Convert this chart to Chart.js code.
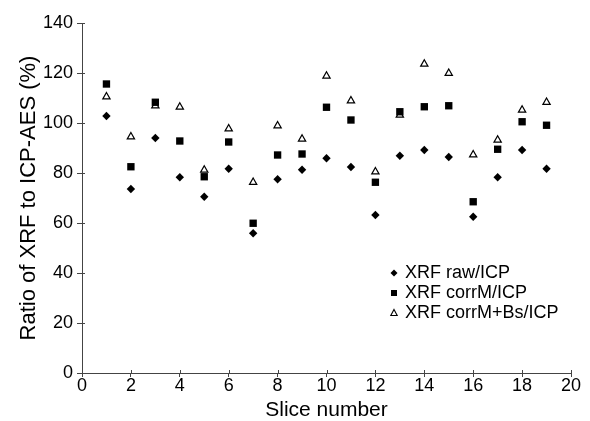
<!DOCTYPE html>
<html>
<head>
<meta charset="utf-8">
<script src="https://cdn.jsdelivr.net/npm/chart.js@4"></script>
<style>
  html, body { margin: 0; padding: 0; background: #fff; }
  #wrap { width: 590px; height: 421px; }
</style>
</head>
<body>
<div id="wrap"><canvas id="chart" width="590" height="421"></canvas></div>
<script>
// slice numbers on the x axis
const slices = [1, 2, 3, 4, 5, 6, 7, 8, 9, 10, 11, 12, 13, 14, 15, 16, 17, 18, 19];

// ratios (%)
const rawICP = [102.8, 73.6, 94.0, 78.3, 70.5, 81.7, 55.9, 77.5, 81.3, 85.9, 82.4, 63.2, 86.9, 89.2, 86.4, 62.5, 78.3, 89.2, 81.7];
const corrMICP = [115.6, 82.5, 108.3, 92.8, 78.5, 92.4, 59.9, 87.2, 87.6, 106.3, 101.2, 76.3, 104.5, 106.5, 106.9, 68.5, 89.5, 100.5, 99.1];
const corrMBsICP = [110.5, 94.5, 106.9, 106.4, 81.2, 97.7, 76.3, 98.9, 93.6, 118.8, 108.9, 80.5, 103.2, 123.6, 119.9, 87.3, 93.2, 105.2, 108.3];

const seriesLabels = ["XRF raw/ICP", "XRF corrM/ICP", "XRF corrM+Bs/ICP"];

const FONT = "'Liberation Sans', Arial, Helvetica, sans-serif";
const AXIS = "#444";

function toPoints(values) {
  return slices.map((s, i) => ({ x: s, y: values[i] }));
}

// short ticks on the inside of both axes
const innerTicks = {
  id: "innerTicks",
  afterDraw(chart) {
    const ctx = chart.ctx;
    const x = chart.scales.x, y = chart.scales.y;
    ctx.save();
    ctx.strokeStyle = AXIS;
    ctx.lineWidth = 1;
    ctx.beginPath();
    x.ticks.forEach(t => {
      const px = Math.round(x.getPixelForValue(t.value)) + 0.5;
      ctx.moveTo(px, y.bottom);
      ctx.lineTo(px, y.bottom - 3);
    });
    y.ticks.forEach(t => {
      const py = Math.round(y.getPixelForValue(t.value)) + 0.5;
      ctx.moveTo(x.left, py);
      ctx.lineTo(x.left + 3, py);
    });
    ctx.stroke();
    ctx.restore();
  }
};

// legend drawn inside the plot, lower right
const innerLegend = {
  id: "innerLegend",
  afterDraw(chart) {
    const ctx = chart.ctx;
    const mx = 394, tx = 405, y0 = 273, gap = 20;
    ctx.save();
    ctx.font = "18px " + FONT;
    ctx.textBaseline = "middle";
    ctx.fillStyle = "#000";
    chart.data.datasets.forEach((ds, i) => {
      const y = y0 + i * gap;
      ctx.beginPath();
      if (ds.pointStyle === "rectRot") {
        ctx.moveTo(mx, y - 3.5); ctx.lineTo(mx + 3.5, y);
        ctx.lineTo(mx, y + 3.5); ctx.lineTo(mx - 3.5, y);
        ctx.closePath();
        ctx.fillStyle = "#000"; ctx.fill();
      } else if (ds.pointStyle === "rect") {
        ctx.rect(mx - 3, y - 3, 6, 6);
        ctx.fillStyle = "#000"; ctx.fill();
      } else {
        ctx.moveTo(mx, y - 3.5); ctx.lineTo(mx + 3.2, y + 2.5);
        ctx.lineTo(mx - 3.2, y + 2.5); ctx.closePath();
        ctx.fillStyle = "#fff"; ctx.fill();
        ctx.strokeStyle = "#000"; ctx.lineWidth = 1.1; ctx.stroke();
      }
      ctx.fillStyle = "#000";
      ctx.fillText(ds.label, tx, y);
    });
    ctx.restore();
  }
};

new Chart(document.getElementById("chart"), {
  type: "scatter",
  data: {
    datasets: [
      {
        label: seriesLabels[0],
        data: toPoints(rawICP),
        pointStyle: "rectRot",
        pointRadius: 4.2,
        backgroundColor: "#000",
        borderColor: "#000",
        borderWidth: 0
      },
      {
        label: seriesLabels[1],
        data: toPoints(corrMICP),
        pointStyle: "rect",
        pointRadius: 5.2,
        backgroundColor: "#000",
        borderColor: "#000",
        borderWidth: 0
      },
      {
        label: seriesLabels[2],
        data: toPoints(corrMBsICP),
        pointStyle: "triangle",
        pointRadius: 4.2,
        backgroundColor: "#fff",
        borderColor: "#000",
        borderWidth: 1.2
      }
    ]
  },
  options: {
    responsive: false,
    animation: false,
    layout: { padding: { left: 0, top: 23, right: 19, bottom: 0 } },
    plugins: {
      legend: { display: false },
      tooltip: { enabled: false }
    },
    scales: {
      x: {
        type: "linear",
        min: 0,
        max: 20,
        ticks: {
          stepSize: 2,
          color: "#000",
          padding: 0,
          font: { family: FONT, size: 18, lineHeight: 1 }
        },
        grid: { drawOnChartArea: false, tickLength: 4, color: AXIS },
        border: { color: AXIS, width: 1 },
        title: {
          display: true,
          text: "Slice number",
          color: "#000",
          padding: { top: 0, bottom: 0 },
          font: { family: FONT, size: 21, lineHeight: 1 }
        },
        afterFit(scale) { scale.height = 48; }
      },
      y: {
        min: 0,
        max: 140,
        ticks: {
          stepSize: 20,
          color: "#000",
          padding: 4,
          font: { family: FONT, size: 18, lineHeight: 1 }
        },
        grid: { drawOnChartArea: false, tickLength: 5, color: AXIS },
        border: { color: AXIS, width: 1 },
        title: {
          display: true,
          text: "Ratio of XRF to ICP-AES (%)",
          color: "#000",
          padding: { top: 18, bottom: 0 },
          font: { family: FONT, size: 22, lineHeight: 1 }
        },
        afterFit(scale) { scale.width = 82; }
      }
    }
  },
  plugins: [innerTicks, innerLegend]
});
</script>
</body>
</html>
